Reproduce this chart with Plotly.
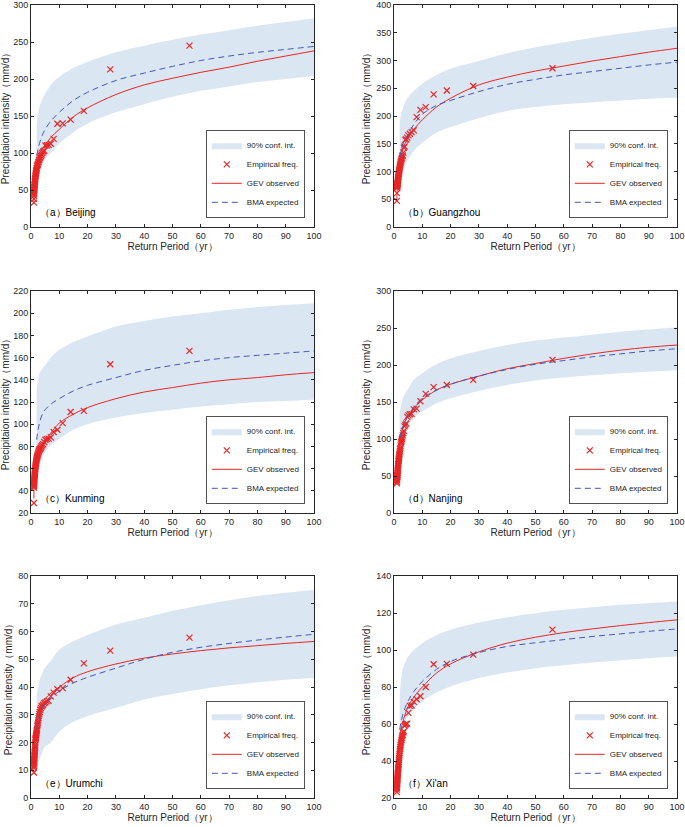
import plotly.graph_objects as go

# ---------------- data ----------------
T_emp = [56.0, 28.0, 18.67, 14.0, 11.2, 9.33, 8.0, 7.0, 6.22, 5.6, 5.09, 4.67, 4.31, 4.0,
         3.73, 3.5, 3.29, 3.11, 2.95, 2.8, 2.67, 2.55, 2.43, 2.33, 2.24, 2.15, 2.07, 2.0,
         1.93, 1.87, 1.81, 1.75, 1.7, 1.65, 1.6, 1.56, 1.51, 1.47, 1.44, 1.4, 1.37, 1.33,
         1.3, 1.27, 1.24, 1.22, 1.19, 1.17, 1.14, 1.12, 1.1, 1.08, 1.06, 1.04, 1.02]

T_gev = [1.02, 1.1, 1.3, 1.5, 2, 2.5, 3, 4, 5, 7, 10, 15, 20, 30, 40, 50, 60, 70, 80, 90, 100]
T_band = [2, 2.5, 3, 4, 5, 7, 10, 15, 20, 30, 40, 50, 60, 70, 80, 90, 100]

stations = ["（a）Beijing", "（b）Guangzhou", "（c）Kunming", "（d）Nanjing", "（e）Urumchi", "（f）Xi'an"]

emp_beijing = [245, 213, 157, 145, 140, 139.5, 119, 112.5, 111, 110.5, 110, 103, 102, 100, 98, 96,
               94, 93, 91, 90, 88, 87, 85, 84, 83, 82, 80, 79, 77, 76, 75, 73, 72, 70, 69, 68,
               66, 65, 64, 62, 61, 60, 58, 57, 56, 54, 53, 51, 50, 48, 46, 44, 42, 38, 33]
emp_guangzhou = [286, 254, 246, 239, 216, 211, 198, 174, 171, 168, 165, 161, 158, 157, 145, 143,
                 134, 129, 128, 125, 123, 120, 118, 116, 113, 111, 109, 107, 104, 102, 100, 98,
                 96, 95, 93, 91, 90, 88, 86, 85, 83, 82, 80, 79, 78, 77, 76, 75, 74, 73, 72,
                 71, 70, 61, 47]
emp_kunming = [166, 154, 112, 111, 101, 95, 93, 88, 87, 86.5, 86, 84, 82, 81, 80, 79, 78, 77.5,
               77, 76, 75, 74, 73, 72, 71, 70.5, 70, 69, 68, 67, 66, 65, 64, 63, 62, 61, 60, 59,
               58, 57, 56, 55, 54, 53, 52, 51, 50, 49, 48, 47, 46, 45, 44, 43, 29]
emp_nanjing = [207, 180, 173, 170, 161, 151, 141, 140, 134, 133.5, 132, 130, 121, 119, 117, 111,
               108, 105, 102, 100, 98, 96, 94, 91, 88, 86, 84, 82, 80, 78, 76, 74, 73, 71, 70,
               68, 66, 65, 63, 61, 60, 58, 57, 55, 54, 52, 51, 50, 49, 48, 47, 45, 44, 42, 40]
emp_urumchi = [57.8, 53.1, 48.5, 42.6, 39.6, 39.2, 38, 36.6, 35, 34.8, 34.4, 34.2, 33.6, 33.2,
               33, 32.4, 31.8, 31, 30.2, 29.5, 28.8, 28, 27.2, 26.5, 25.8, 25, 24.5, 24, 23.5,
               23, 22.6, 22.2, 21.8, 21.5, 21.2, 20.8, 20, 19, 18.5, 18, 17.5, 17, 16.5, 16,
               15.5, 15, 14.5, 14, 13.5, 13, 12.5, 12, 11.5, 11, 9.2]
emp_xian = [111, 97.5, 92.5, 92.3, 80, 75, 73.4, 72, 70, 69.8, 66, 60.2, 60, 59.6, 59, 56, 55.4,
            54.2, 53.3, 52.4, 51.5, 50.5, 49.5, 48.5, 47.5, 46.5, 45.5, 44.5, 43.5, 42.5, 41.5,
            40.5, 39.5, 38.5, 37.8, 37, 36.3, 35.6, 35, 34.3, 33.6, 33, 32.3, 31.6, 31, 30.3,
            29.6, 29, 28.3, 27.6, 27, 26.2, 25.5, 24.5, 23.2]

gev_beijing = [35, 45, 58, 67, 83, 92, 99, 106, 111, 121, 132, 149, 161, 179, 192, 201, 209, 216, 224, 231, 238]
gev_guangzhou = [48, 66, 85, 98, 118, 130, 139, 151, 162, 176, 193, 216, 232, 256, 270, 281, 290, 299, 307, 315, 322]
gev_kunming = [33, 44, 53, 59, 69, 73, 77, 82, 86, 92, 101, 109, 115, 123, 129, 133, 137, 140, 142, 144.5, 146.5]
gev_nanjing = [40, 48, 62, 73, 97, 106, 113, 124, 131, 142, 153, 166, 174, 185, 195, 202, 209, 215, 220, 224, 227]
gev_urumchi = [9, 14, 20, 24, 29, 31, 32.5, 34.5, 35.8, 37.8, 40, 43.4, 45.5, 48.3, 50.4, 51.9, 53.1, 54.1, 54.9, 55.7, 56.4]
gev_xian = [23, 28, 36, 43, 53, 57, 60.5, 65.5, 69.5, 74.5, 80, 87.5, 92.5, 99, 103.7, 106.9, 109.4, 111.4, 113.2, 114.8, 116.3]

bma_beijing = [97, 105, 113, 124, 132, 143, 155, 171, 182, 198, 208, 217, 225, 231, 236, 240, 244]
bma_guangzhou = [125, 139, 148, 158, 167, 185, 203, 219, 228, 244, 257, 266, 274, 280, 286, 292, 297]
bma_kunming = [86, 95, 101, 109, 113, 118, 123, 130, 135, 142, 148.5, 153, 157, 160, 162, 164, 166]
bma_nanjing = [101, 109, 115, 125, 132, 143, 155, 166, 174, 185, 194, 201, 206, 211, 215, 219, 222]
bma_urumchi = [25, 27.5, 30, 32.5, 34, 36, 38.5, 41.5, 43.5, 46.8, 50, 52.5, 54.3, 55.7, 56.9, 58, 59]
bma_xian = [57, 61, 64.5, 69, 72.5, 77.5, 83, 89.5, 93.8, 98.6, 101.9, 103.9, 105.6, 107.3, 108.7, 110.1, 111.4]

upper_beijing = [138, 154, 162, 173, 180, 192, 203, 215, 223, 236, 245, 253, 260, 266, 272, 277, 282]
upper_guangzhou = [188, 203, 211, 226, 234, 245, 258, 274, 285, 299, 313, 324, 333, 341, 348, 355, 361]
upper_kunming = [132, 140, 146, 150, 153, 160, 167, 174, 179, 188, 193, 197, 200, 203, 205.5, 207.5, 209]
upper_nanjing = [135, 145, 153, 162, 168, 180, 189, 201, 209, 219, 227, 233, 237, 241, 245, 248, 251]
upper_urumchi = [37, 40, 42.5, 45, 47, 49.5, 53.5, 56.5, 58.7, 62.5, 65, 67.5, 69.5, 71.3, 72.8, 74, 75]
upper_xian = [75, 84, 89, 93.5, 96.5, 100, 103.7, 108, 110.9, 114.8, 117.7, 119.9, 121.7, 123.1, 124.4, 125.3, 126.2]

lower_beijing = [65, 72, 78, 86, 92, 100, 113, 128, 140, 155, 166, 176, 184, 190, 196, 200, 204]
lower_guangzhou = [80, 88, 95, 112, 122, 137, 152, 170, 180, 196, 209, 216, 221, 225, 228, 231, 233]
lower_kunming = [47, 55, 62, 69, 75, 81, 87, 95, 100, 106, 110, 113, 116, 118, 120, 121, 122]
lower_nanjing = [83, 91, 99, 109, 117, 128, 137, 148, 155, 165, 173, 179, 183, 186, 189, 191, 193]
lower_urumchi = [9.5, 12, 14, 16.5, 18.5, 20, 24, 27.5, 29.5, 32.5, 35.5, 37.5, 39.2, 40.6, 41.7, 42.6, 43.2]
lower_xian = [46, 52, 57, 61, 64, 68, 72.2, 77, 80.3, 84.8, 87.8, 90.2, 91.8, 93.2, 94.5, 95.6, 96.5]

emp_all = [emp_beijing, emp_guangzhou, emp_kunming, emp_nanjing, emp_urumchi, emp_xian]
gev_all = [gev_beijing, gev_guangzhou, gev_kunming, gev_nanjing, gev_urumchi, gev_xian]
bma_all = [bma_beijing, bma_guangzhou, bma_kunming, bma_nanjing, bma_urumchi, bma_xian]
upper_all = [upper_beijing, upper_guangzhou, upper_kunming, upper_nanjing, upper_urumchi, upper_xian]
lower_all = [lower_beijing, lower_guangzhou, lower_kunming, lower_nanjing, lower_urumchi, lower_xian]

y_ranges = [(0, 300, 50), (0, 400, 50), (20, 220, 20), (0, 300, 50), (0, 80, 10), (20, 140, 20)]

# ---------------- layout geometry ----------------
W, H = 685, 827
col_px = [(31, 314), (394, 677)]
row_px = [(5, 227), (291, 513), (576, 798)]

BAND = "rgb(219,230,243)"
RED = "rgb(232,38,38)"
BLUE = "rgb(68,88,178)"
AXC = "#262626"
FONT = "Liberation Sans, Arial, sans-serif"

fig = go.Figure()
layout = dict(width=W, height=H, margin=dict(l=0, r=0, t=0, b=0, autoexpand=False),
              plot_bgcolor="white", paper_bgcolor="white",
              font=dict(family=FONT, size=9, color=AXC), annotations=[])

for i in range(6):
    r, c = divmod(i, 2)
    n = i + 1
    xa = "x" if n == 1 else f"x{n}"
    ya = "y" if n == 1 else f"y{n}"
    lg = "legend" if n == 1 else f"legend{n}"
    x0, x1 = col_px[c]
    y0, y1 = row_px[r]

    fig.add_trace(go.Scatter(x=T_band, y=lower_all[i], mode="lines", line=dict(width=0, shape="spline", color=BAND),
                             showlegend=False, hoverinfo="skip", xaxis=xa, yaxis=ya, legend=lg))
    fig.add_trace(go.Scatter(x=T_band, y=upper_all[i], mode="lines", fill="tonexty", fillcolor=BAND,
                             line=dict(width=0, shape="spline", color=BAND), name="90% conf. int.",
                             xaxis=xa, yaxis=ya, legend=lg))
    fig.add_trace(go.Scatter(x=T_emp, y=emp_all[i], mode="markers", name="Empirical freq.",
                             marker=dict(symbol="x-thin", size=6, line=dict(width=1.2, color=RED), color=RED),
                             xaxis=xa, yaxis=ya, legend=lg))
    fig.add_trace(go.Scatter(x=T_gev, y=gev_all[i], mode="lines", name="GEV observed",
                             line=dict(color=RED, width=1, shape="spline"), xaxis=xa, yaxis=ya, legend=lg))
    fig.add_trace(go.Scatter(x=T_band, y=bma_all[i], mode="lines", name="BMA expected",
                             line=dict(color=BLUE, width=1, dash="6px,4px", shape="spline"),
                             xaxis=xa, yaxis=ya, legend=lg))

    ymin, ymax, dy = y_ranges[i]
    axis_common = dict(showline=True, linecolor=AXC, linewidth=0.8, mirror="ticks", ticks="inside",
                       ticklen=3, tickcolor=AXC, showgrid=False, zeroline=False, automargin=False,
                       ticklabeloverflow="allow",
                       tickfont=dict(size=9, family=FONT, color=AXC))
    layout["xaxis" if n == 1 else f"xaxis{n}"] = dict(
        domain=[x0 / W, x1 / W], range=[0, 100], dtick=10, tick0=0, anchor=ya,
        title=dict(text="Return Period（yr）", font=dict(size=10, family=FONT), standoff=3), **axis_common)
    layout["yaxis" if n == 1 else f"yaxis{n}"] = dict(
        domain=[1 - y1 / H, 1 - y0 / H], range=[ymin, ymax], dtick=dy, tick0=ymin, anchor=xa,
        title=dict(text="Precipitaion intensity（mm/d）", font=dict(size=10, family=FONT), standoff=3),
        **axis_common)
    layout[lg] = dict(x=(x1 - 9) / W, y=1 - (y1 - 9) / H, xanchor="right", yanchor="bottom",
                      bgcolor="white", bordercolor=AXC, borderwidth=0.8, traceorder="normal",
                      font=dict(size=8, family=FONT, color=AXC), tracegroupgap=0,
                      itemwidth=30)
    layout["annotations"].append(dict(text=stations[i], xref=f"{xa} domain", yref=f"{ya} domain",
                                      x=0.025, y=0.065, xanchor="left", yanchor="middle", showarrow=False,
                                      font=dict(size=10, family=FONT, color="black")))

fig.update_layout(**layout)
fig.write_html("out.html", config={"displayModeBar": False},
               post_script="document.body.style.margin='0';document.body.style.overflow='hidden';")
